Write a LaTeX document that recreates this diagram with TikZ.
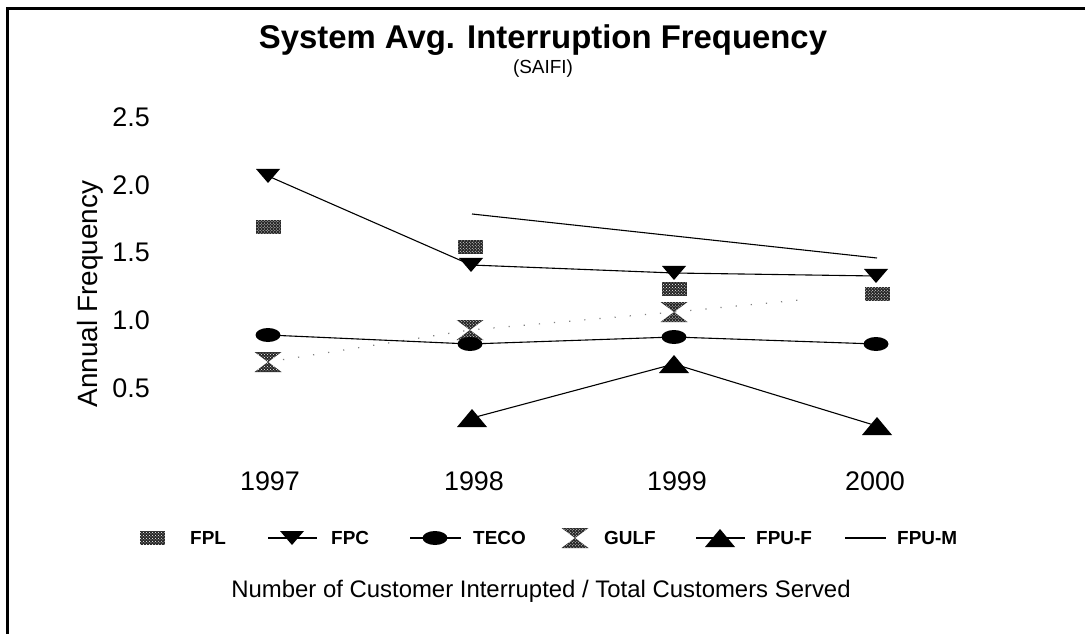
\documentclass[tikz,border=0pt]{standalone}
\usepackage{fontspec}
\setmainfont{Liberation Sans}
\usetikzlibrary{calc,patterns}
\begin{document}
\begin{tikzpicture}[x=1bp,y=-1bp,
  lbl/.style={inner sep=0pt,font=\fontsize{27}{30}\selectfont},
  yr/.style={inner sep=0pt,font=\fontsize{27}{30}\selectfont},
  leg/.style={inner sep=0pt,anchor=west,font=\bfseries\fontsize{19}{22}\selectfont},
  serie/.style={line width=1.1bp},
  stipple/.style={fill=black!85,postaction={pattern=crosshatch dots,pattern color=white}},
  gulfline/.style={gray,line width=1.2bp,dash pattern=on 1.2bp off 14bp}]
\useasboundingbox (0,0) rectangle (1085,634);
\fill[white] (0,0) rectangle (1085,634);
\draw[line width=3bp] (7,634) -- (7,9) -- (1085,9);
% markers
\newcommand\mfpl[1]{\path[stipple] ($(#1)+(-12.5,-7)$) rectangle ++(25,14);}
\newcommand\mfpc[1]{\fill ($(#1)+(-12,-7)$) -- ++(24,0) -- ++(-12,14) -- cycle;}
\newcommand\mteco[1]{\fill (#1) ellipse [x radius=12.5, y radius=7];}
\newcommand\mgulf[1]{\path[stipple] ($(#1)+(-13.5,-10)$) -- ++(27,0) -- ++(-13.5,10) -- cycle;
  \path[stipple] ($(#1)+(-13.5,10)$) -- ++(27,0) -- ++(-13.5,-10) -- cycle;}
\newcommand\mfpuf[1]{\fill ($(#1)+(-15,9)$) -- ++(30,0) -- ++(-15,-18) -- cycle;}
% title
\node[inner sep=0pt,anchor=base,font=\bfseries\fontsize{33}{36}\selectfont] (title) at (543,49) {System Avg. Interruption Frequency};
\node[inner sep=0pt,font=\fontsize{19}{22}\selectfont] (sub) at (543,69) {(SAIFI)};
% axis labels
\node[lbl,anchor=east] (t25) at (150,117) {2.5};
\node[lbl,anchor=east] (t20) at (150,185) {2.0};
\node[lbl,anchor=east] (t15) at (150,252) {1.5};
\node[lbl,anchor=east] (t10) at (150,320) {1.0};
\node[lbl,anchor=east] (t05) at (150,388) {0.5};
\node[lbl,rotate=90,font=\fontsize{28}{30}\selectfont] (ylab) at (90,294) {Annual Frequency};
\node[yr] (y97) at (270,481) {1997};
\node[yr] (y98) at (474,481) {1998};
\node[yr] (y99) at (677,481) {1999};
\node[yr] (y00) at (875,481) {2000};
% data coordinates
\coordinate (fpl97) at (268,227); \coordinate (fpl98) at (470,247);
\coordinate (fpl99) at (674,289); \coordinate (fpl00) at (877,294);
\coordinate (fpc97) at (268,176); \coordinate (fpc98) at (471,265);
\coordinate (fpc99) at (674,273); \coordinate (fpc00) at (876,276);
\coordinate (teco97) at (268,335); \coordinate (teco98) at (470,344);
\coordinate (teco99) at (674,337); \coordinate (teco00) at (876,344);
\coordinate (gulf97) at (268,362); \coordinate (gulf98) at (470,330);
\coordinate (gulf99) at (674,312); \coordinate (gulfend) at (800,300);
\coordinate (fpuf98) at (472,418); \coordinate (fpuf99) at (674,364);
\coordinate (fpuf00) at (877,426);
\coordinate (fpum98) at (472,214); \coordinate (fpum00) at (877,258);
% lines
\draw[gulfline] (gulf97) -- (gulf98) -- (gulf99) -- (gulfend);
\draw[serie] (fpc97) -- (fpc98) -- (fpc99) -- (fpc00);
\draw[serie] (teco97) -- (teco98) -- (teco99) -- (teco00);
\draw[serie] (fpuf98) -- (fpuf99) -- (fpuf00);
\draw[serie] (fpum98) -- (fpum00);
% markers
\mfpl{fpl97}\mfpl{fpl98}\mfpl{fpl99}\mfpl{fpl00}
\mfpc{fpc97}\mfpc{fpc98}\mfpc{fpc99}\mfpc{fpc00}
\mgulf{gulf97}\mgulf{gulf98}\mgulf{gulf99}
\mteco{teco97}\mteco{teco98}\mteco{teco99}\mteco{teco00}
\mfpuf{fpuf98}\mfpuf{fpuf99}\mfpuf{fpuf00}
% legend
\coordinate (lfpl) at (152,538);
\mfpl{lfpl}
\node[leg] (tfpl) at (190,538) {FPL};
\coordinate (lfpca) at (268,538); \coordinate (lfpcb) at (317,538); \coordinate (lfpc) at (292,538);
\draw[serie] (lfpca) -- (lfpcb); \mfpc{lfpc}
\node[leg] (tfpc) at (331,538) {FPC};
\coordinate (ltecoa) at (410,538); \coordinate (ltecob) at (461,538); \coordinate (lteco) at (435,538);
\draw[serie] (ltecoa) -- (ltecob); \mteco{lteco}
\node[leg] (tteco) at (473,538) {TECO};
\coordinate (lgulf) at (575,538); \mgulf{lgulf}
\node[leg] (tgulf) at (604,538) {GULF};
\coordinate (lfpufa) at (696,538); \coordinate (lfpufb) at (745,538); \coordinate (lfpuf) at (720,538);
\draw[serie] (lfpufa) -- (lfpufb); \mfpuf{lfpuf}
\node[leg] (tfpuf) at (756,538) {FPU-F};
\coordinate (lfpuma) at (845,538); \coordinate (lfpumb) at (886,538);
\draw[serie] (lfpuma) -- (lfpumb);
\node[leg] (tfpum) at (897,538) {FPU-M};
\node[inner sep=0pt,font=\fontsize{24}{28}\selectfont] (foot) at (541,591) {Number of Customer Interrupted / Total Customers Served};
\end{tikzpicture}
\end{document}
